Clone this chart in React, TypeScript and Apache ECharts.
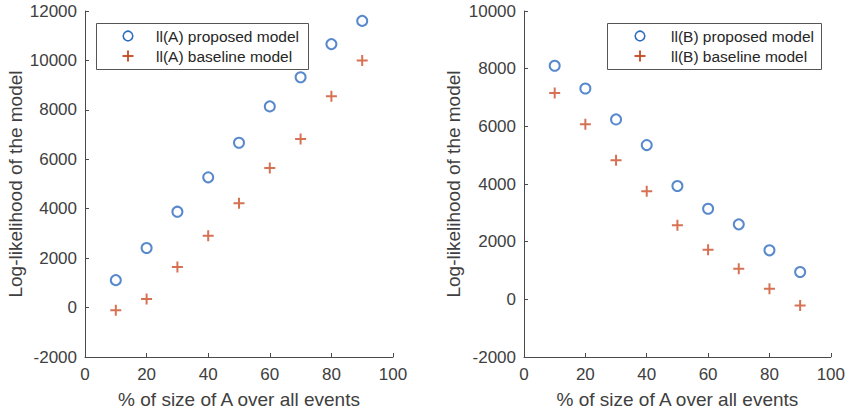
import React, { useEffect, useRef } from "react";
import * as echarts from "echarts";

const xValues = [10, 20, 30, 40, 50, 60, 70, 80, 90];
const proposedA = [1110, 2410, 3880, 5270, 6670, 8140, 9320, 10660, 11600];
const baselineA = [-110, 350, 1640, 2910, 4220, 5650, 6820, 8550, 10000];
const proposedB = [8100, 7310, 6240, 5350, 3930, 3140, 2600, 1700, 950];
const baselineB = [7160, 6070, 4820, 3750, 2570, 1720, 1060, 370, -210];

const seriesNames = [
  "ll(A) proposed model",
  "ll(A) baseline model",
  "ll(B) proposed model",
  "ll(B) baseline model",
];
const xName = "% of size of A over all events";
const yName = "Log-likelihood of the model";

const BLUE = "#2F6CC0";
const RED = "#CC4E28";
const TEXT = "#404040";
const AXIS = "#4a4a4a";
const FONT = "'Liberation Sans', Arial, Helvetica, sans-serif";
const PLUS = "path://M0,4.1 H10 V5.9 H0 Z M4.1,0 H5.9 V10 H4.1 Z";

const pairs = (ys: number[]) => xValues.map((x, i) => [x, ys[i]]);

function legendGraphic(
  boxX: number,
  boxW: number,
  iconX: number,
  textX: number,
  names: string[]
) {
  const rows = [36, 56];
  return {
    type: "group",
    children: [
      {
        type: "rect",
        shape: { x: boxX + 0.5, y: 23.5, width: boxW, height: 46 },
        style: { fill: "#fff", stroke: "#555", lineWidth: 1 },
      },
      {
        type: "circle",
        shape: { cx: iconX, cy: rows[0], r: 4.8 },
        style: { fill: "none", stroke: BLUE, lineWidth: 1.6 },
      },
      {
        type: "line",
        shape: { x1: iconX - 5.5, y1: rows[1], x2: iconX + 5.5, y2: rows[1] },
        style: { stroke: RED, lineWidth: 1.9 },
      },
      {
        type: "line",
        shape: { x1: iconX, y1: rows[1] - 5.5, x2: iconX, y2: rows[1] + 5.5 },
        style: { stroke: RED, lineWidth: 1.9 },
      },
      ...names.map((n, i) => ({
        type: "text",
        x: textX,
        y: rows[i],
        style: {
          text: n,
          fontSize: 15.5,
          fill: "#262626",
          fontFamily: FONT,
          verticalAlign: "middle",
          align: "left",
        },
      })),
    ],
  };
}

export default function App() {
  const ref = useRef<HTMLDivElement>(null);
  useEffect(() => {
    document.body.style.margin = "0";
    const chart = echarts.init(ref.current!, null, { renderer: "svg" });
    const xAxisBase = (gridIndex: number) => ({
      type: "value" as const,
      gridIndex,
      min: 0,
      max: 100,
      interval: 20,
      name: xName,
      nameLocation: "middle" as const,
      nameGap: 33,
      nameTextStyle: { fontSize: 19, color: TEXT, fontFamily: FONT },
      axisLine: { show: true, onZero: false, lineStyle: { color: AXIS, width: 1 } },
      axisTick: { show: true, inside: true, length: 4, lineStyle: { color: AXIS } },
      axisLabel: { fontSize: 17, color: TEXT, fontFamily: FONT, margin: 9 },
      splitLine: { show: false },
    });
    const yAxisBase = (gridIndex: number, max: number, gap: number) => ({
      type: "value" as const,
      gridIndex,
      min: -2000,
      max,
      interval: 2000,
      name: yName,
      nameLocation: "middle" as const,
      nameGap: gap,
      nameTextStyle: { fontSize: 19, color: TEXT, fontFamily: FONT },
      axisLine: { show: true, onZero: false, lineStyle: { color: AXIS, width: 1 } },
      axisTick: { show: true, inside: true, length: 4, lineStyle: { color: AXIS } },
      axisLabel: {
        fontSize: 17,
        color: TEXT,
        fontFamily: FONT,
        margin: 8,
        formatter: (v: number) => String(v),
      },
      splitLine: { show: false },
    });
    chart.setOption({
      animation: false,
      backgroundColor: "#fff",
      grid: [
        { left: 85, top: 11, width: 308, height: 346 },
        { left: 524, top: 11, width: 307, height: 346 },
      ],
      xAxis: [xAxisBase(0), xAxisBase(1)],
      yAxis: [yAxisBase(0, 12000, 60), yAxisBase(1, 10000, 61)],
      series: [
        {
          name: seriesNames[0],
          type: "scatter",
          xAxisIndex: 0,
          yAxisIndex: 0,
          data: pairs(proposedA),
          symbol: "emptyCircle",
          symbolSize: 10,
          itemStyle: { color: BLUE, borderColor: BLUE, borderWidth: 1.6 },
        },
        {
          name: seriesNames[1],
          type: "scatter",
          xAxisIndex: 0,
          yAxisIndex: 0,
          data: pairs(baselineA),
          symbol: PLUS,
          symbolSize: 11,
          itemStyle: { color: RED },
        },
        {
          name: seriesNames[2],
          type: "scatter",
          xAxisIndex: 1,
          yAxisIndex: 1,
          data: pairs(proposedB),
          symbol: "emptyCircle",
          symbolSize: 10,
          itemStyle: { color: BLUE, borderColor: BLUE, borderWidth: 1.6 },
        },
        {
          name: seriesNames[3],
          type: "scatter",
          xAxisIndex: 1,
          yAxisIndex: 1,
          data: pairs(baselineB),
          symbol: PLUS,
          symbolSize: 11,
          itemStyle: { color: RED },
        },
      ],
      graphic: [
        legendGraphic(96, 212, 128, 156, [seriesNames[0], seriesNames[1]]),
        legendGraphic(607, 214, 640, 671, [seriesNames[2], seriesNames[3]]),
      ],
    });
    return () => chart.dispose();
  }, []);
  return <div ref={ref} style={{ width: 848, height: 415 }} />;
}
